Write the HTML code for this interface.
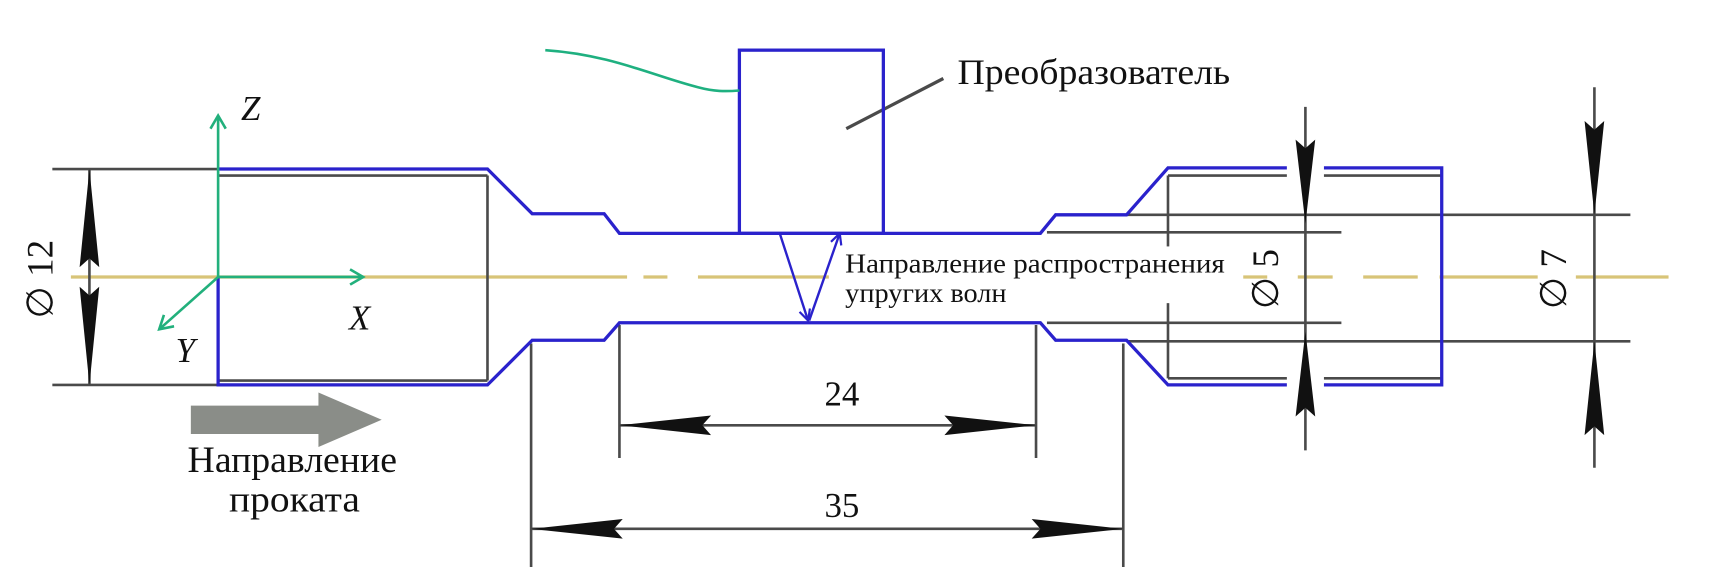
<!DOCTYPE html>
<html><head><meta charset="utf-8"><style>
html,body{margin:0;padding:0;background:#fff;}
svg{display:block;}
text{font-family:"Liberation Serif",serif;fill:#111;}
</style></head><body>
<svg width="1710" height="579" viewBox="0 0 1568 531" preserveAspectRatio="none" xmlns="http://www.w3.org/2000/svg">
<defs>
<marker id="ga" markerWidth="16" markerHeight="16" refX="13" refY="8" orient="auto" markerUnits="userSpaceOnUse">
<path d="M1,1 L13,8 L1,15" fill="none" stroke="#22b07c" stroke-width="2.4"/></marker>
<marker id="ba" markerWidth="12" markerHeight="12" refX="11" refY="6" orient="auto" markerUnits="userSpaceOnUse">
<path d="M1,1 L11,6 L1,11" fill="none" stroke="#2a22cc" stroke-width="2"/></marker>
</defs>

<g stroke="#d8c478" stroke-width="3">
<line x1="65" y1="254" x2="575" y2="254"/>
<path d="M590 254 H612 M640 254 H760 M1000 254 H1022 M1050 254 H1112 M1140 254 H1162 M1190 254 H1222 M1250 254 H1300 M1320 254 H1410 M1445 254 H1530" />
</g>

<g stroke="#4a4a4a" stroke-width="2.4" fill="none">
<line x1="48" y1="155" x2="200" y2="155"/>
<line x1="48" y1="353" x2="200" y2="353"/>
<line x1="200" y1="161" x2="447" y2="161"/>
<line x1="200" y1="349" x2="447" y2="349"/>
<line x1="447" y1="161" x2="447" y2="349"/>
<line x1="568" y1="298" x2="568" y2="420"/>
<line x1="950" y1="298" x2="950" y2="420"/>
<line x1="487" y1="315" x2="487" y2="520"/>
<line x1="1030" y1="315" x2="1030" y2="520"/>
<line x1="1033" y1="197" x2="1495" y2="197"/>
<line x1="1033" y1="313" x2="1495" y2="313"/>
<line x1="960" y1="213" x2="1230" y2="213"/>
<line x1="960" y1="296" x2="1230" y2="296"/>
<path d="M1071 161 H1180 M1214 161 H1322 M1071 347 H1180 M1214 347 H1322"/>
<line x1="1071" y1="161" x2="1071" y2="240"/>
<line x1="1071" y1="270" x2="1071" y2="347"/>
<line x1="82" y1="155" x2="82" y2="353"/>
<line x1="1197" y1="98" x2="1197" y2="413"/>
<line x1="1462" y1="80" x2="1462" y2="429"/>
<line x1="568" y1="390" x2="950" y2="390"/>
<line x1="487" y1="485" x2="1030" y2="485"/>
<line x1="776" y1="118" x2="865" y2="72" stroke-width="3"/>
</g>

<g fill="#111">
<path d="M82 155 L91 245 L82 237 L73 245Z"/>
<path d="M82 353 L91 263 L82 271 L73 263Z"/>
<path d="M1197 205 L1206 128 L1197 136 L1188 128Z"/>
<path d="M1197 304 L1206 382 L1197 374 L1188 382Z"/>
<path d="M1462 197 L1471 111 L1462 119 L1453 111Z"/>
<path d="M1462 313 L1471 399 L1462 391 L1453 399Z"/>
<path d="M568 390 L652 381 L644 390 L652 399Z"/>
<path d="M950 390 L866 381 L874 390 L866 399Z"/>
<path d="M487 485 L571 476 L563 485 L571 494Z"/>
<path d="M1030 485 L946 476 L954 485 L946 494Z"/>
</g>

<g stroke="#2a22cc" stroke-width="3" fill="none">
<path d="M200 155 H447 L488 196 H554 L568 214 H954 L968 197 H1033 L1071 154 H1180 M1214 154 H1322 V353 H1214 M1180 353 H1071 L1033 312 H968 L954 296 H568 L554 312 H488 L447 353 H200 V254"/>
<rect x="678" y="46" width="132" height="168"/>
<line x1="715" y1="214" x2="741" y2="294" marker-end="url(#ba)" stroke-width="2.2"/>
<line x1="742" y1="294" x2="770" y2="214" marker-end="url(#ba)" stroke-width="2.2"/>
</g>

<path d="M500 46 C560 50 600 70 640 80 C655 84 665 84 678 83" stroke="#1fb080" stroke-width="2.4" fill="none"/>
<g stroke="#22b07c" stroke-width="2.4" fill="none">
<line x1="200" y1="254" x2="200" y2="106" marker-end="url(#ga)"/>
<line x1="200" y1="254" x2="333" y2="254" marker-end="url(#ga)"/>
<line x1="200" y1="254" x2="146" y2="302" marker-end="url(#ga)"/>
</g>

<path d="M175 372 H292 V360 L350 385 L292 410 V398 H175Z" fill="#8a8d88"/>

<g font-style="italic" font-size="32">
<text x="221" y="110">Z</text>
<text x="320" y="302">X</text>
<text x="161" y="332">Y</text>
</g>
<text x="878" y="77" font-size="33" textLength="250" lengthAdjust="spacingAndGlyphs">Преобразователь</text>
<rect x="772" y="226" width="352" height="52" fill="#fff"/>
<text x="775" y="250" font-size="25" textLength="348" lengthAdjust="spacingAndGlyphs">Направление распространения</text>
<text x="775" y="277" font-size="25" textLength="148" lengthAdjust="spacingAndGlyphs">упругих волн</text>
<text x="756" y="372" font-size="32">24</text>
<text x="756" y="474" font-size="32">35</text>
<text x="172" y="433" font-size="34" textLength="192" lengthAdjust="spacingAndGlyphs">Направление</text>
<text x="210" y="469" font-size="34" textLength="120" lengthAdjust="spacingAndGlyphs">проката</text>
<text transform="translate(48,256) rotate(-90)" font-size="34" text-anchor="middle">∅ 12</text>
<text transform="translate(1172,256) rotate(-90)" font-size="34" text-anchor="middle">∅ 5</text>
<text transform="translate(1436,256) rotate(-90)" font-size="34" text-anchor="middle">∅ 7</text>
</svg>
</body></html>
